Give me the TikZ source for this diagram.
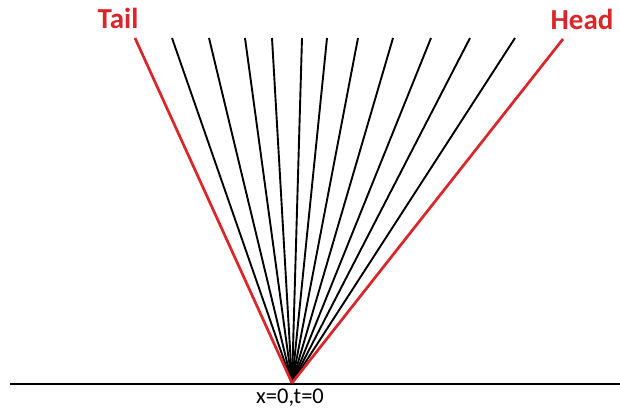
\documentclass[tikz,border=0pt]{standalone}
\usepackage{fontspec}
\setmainfont{Carlito}
\definecolor{lred}{RGB}{218,37,42}
\tikzset{
  ray/.style={black, line width=1.9pt},
  redray/.style={lred, line width=2.7pt},
  lbl/.style={lred, font=\fontsize{29}{31}\selectfont\bfseries, inner sep=0pt},
}
\begin{document}
\begin{tikzpicture}[x=1pt,y=-1pt]
\useasboundingbox (0,0) rectangle (620,410);
\coordinate (O) at (292,383);
\coordinate (L) at (10,384);
\coordinate (R) at (620,384);
\draw[black, line width=2pt] (L) -- (R);
\foreach \i/\x in {1/172,2/209,3/245,4/272,5/302,6/327,7/358,8/393,9/431,10/470,11/515}{
  \coordinate (t\i) at (\x,38);
  \draw[ray] (O) -- (t\i);
}
\coordinate (tailtop) at (135,38);
\coordinate (headtop) at (563,39);
\draw[redray] (O) -- (tailtop);
\draw[redray] (O) -- (headtop);
\node[lbl, anchor=base] (tail) at (118,28) {Tail};
\node[lbl, anchor=base] (head) at (582,29) {Head};
\node[font=\fontsize{22.5}{24}\selectfont, anchor=base, inner sep=0pt] (origin) at (290,403) {x=0,t=0};
\end{tikzpicture}
\end{document}
